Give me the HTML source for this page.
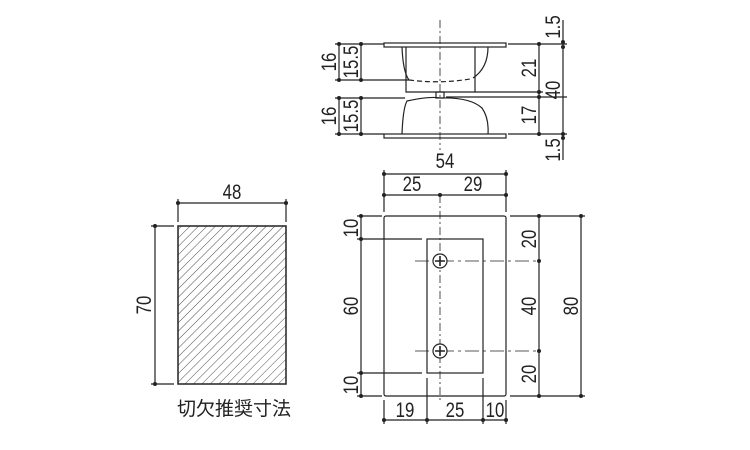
<!DOCTYPE html>
<html><head><meta charset="utf-8"><style>body{margin:0;background:#fff}svg{display:block}</style></head><body>
<svg width="750" height="450" viewBox="0 0 750 450" xmlns="http://www.w3.org/2000/svg" font-family="'Liberation Sans','Noto Sans CJK JP',sans-serif" font-size="21" fill="#222">
<defs>
<pattern id="h" patternUnits="userSpaceOnUse" width="6" height="6" patternTransform="rotate(45)"><line x1="0" y1="0" x2="0" y2="6" stroke="#222" stroke-width="0.8"/></pattern>
</defs>
<g stroke="#222" stroke-width="1.2" fill="none">
<rect x="384" y="43" width="122" height="4" fill="#fff"/>
<rect x="384" y="134" width="122" height="4" fill="#fff"/>
<path d="M406 47 V92 H475 V47"/>
<path d="M402 47 Q403 72 409 80"/>
<path d="M488 47 Q488 68 473 78"/>
<path d="M409 80 Q440 84 470 79" stroke-dasharray="5,3"/>
<rect x="436" y="92" width="8" height="6"/>
<path d="M402 134 Q403 108 407 101 Q430 96 440 98 Q470 97 482 108 Q489 118 488 134"/>
<line x1="440" y1="20" x2="440" y2="150" stroke-dasharray="8,3,2,3" stroke-width="0.8"/>
<line x1="339" y1="44" x2="339" y2="80"/><line x1="361" y1="44" x2="361" y2="80"/>
<line x1="339" y1="98" x2="339" y2="134"/><line x1="361" y1="98" x2="361" y2="134"/>
<line x1="335" y1="44" x2="384" y2="44"/><line x1="335" y1="80" x2="409" y2="80"/>
<line x1="335" y1="98" x2="405" y2="98"/><line x1="335" y1="134" x2="384" y2="134"/>
<line x1="539" y1="44" x2="539" y2="134"/><line x1="563" y1="20" x2="563" y2="160"/>
<line x1="508" y1="44" x2="567" y2="44"/><line x1="475" y1="92" x2="543" y2="92"/>
<line x1="446" y1="97" x2="567" y2="97"/><line x1="508" y1="134" x2="567" y2="134"/>
<rect x="384" y="216" width="122" height="180" rx="2"/>
<rect x="427" y="239" width="56" height="134"/>
<line x1="440" y1="195" x2="440" y2="400" stroke-dasharray="8,3,2,3" stroke-width="0.8"/>
<line x1="415" y1="261" x2="539" y2="261" stroke-dasharray="14,4,3,4" stroke-width="0.8"/>
<line x1="415" y1="351" x2="539" y2="351" stroke-dasharray="14,4,3,4" stroke-width="0.8"/>
<circle cx="440" cy="261" r="7" fill="#fff"/><circle cx="440" cy="351" r="7" fill="#fff"/>
<path d="M435 261 H445 M440 256 V266 M435 351 H445 M440 346 V356" stroke-width="1.6"/>
<line x1="384" y1="174" x2="506" y2="174"/><line x1="384" y1="195" x2="506" y2="195"/>
<line x1="384" y1="170" x2="384" y2="212"/><line x1="506" y1="170" x2="506" y2="212"/>
<line x1="361" y1="216" x2="361" y2="396"/>
<line x1="357" y1="216" x2="382" y2="216"/><line x1="357" y1="239" x2="422" y2="239"/>
<line x1="357" y1="373" x2="422" y2="373"/><line x1="357" y1="396" x2="382" y2="396"/>
<line x1="539" y1="216" x2="539" y2="396"/><line x1="581" y1="216" x2="581" y2="396"/>
<line x1="510" y1="216" x2="585" y2="216"/><line x1="510" y1="396" x2="585" y2="396"/>
<line x1="384" y1="420" x2="506" y2="420"/>
<line x1="384" y1="400" x2="384" y2="424"/><line x1="427" y1="378" x2="427" y2="424"/>
<line x1="483" y1="378" x2="483" y2="424"/><line x1="506" y1="400" x2="506" y2="424"/>
<rect x="178" y="226" width="108" height="158" fill="url(#h)" stroke-width="1.5"/>
<line x1="178" y1="203" x2="286" y2="203"/><line x1="178" y1="199" x2="178" y2="222"/><line x1="286" y1="199" x2="286" y2="222"/>
<line x1="155" y1="226" x2="155" y2="384"/><line x1="151" y1="226" x2="174" y2="226"/><line x1="151" y1="384" x2="174" y2="384"/>
</g>
<g fill="#222">
<circle cx="339" cy="44" r="2"/><circle cx="361" cy="44" r="2"/><circle cx="339" cy="80" r="2"/><circle cx="361" cy="80" r="2"/>
<circle cx="339" cy="98" r="2"/><circle cx="361" cy="98" r="2"/><circle cx="339" cy="134" r="2"/><circle cx="361" cy="134" r="2"/>
<circle cx="539" cy="44" r="2"/><circle cx="539" cy="92" r="2"/><circle cx="539" cy="97" r="2"/><circle cx="539" cy="134" r="2"/>
<circle cx="563" cy="42" r="2"/><circle cx="563" cy="47" r="2"/><circle cx="563" cy="134" r="2"/><circle cx="563" cy="138" r="2"/>
<circle cx="384" cy="174" r="2"/><circle cx="506" cy="174" r="2"/><circle cx="384" cy="195" r="2"/><circle cx="440" cy="195" r="2"/><circle cx="506" cy="195" r="2"/>
<circle cx="361" cy="216" r="2"/><circle cx="361" cy="239" r="2"/><circle cx="361" cy="373" r="2"/><circle cx="361" cy="396" r="2"/>
<circle cx="539" cy="216" r="2"/><circle cx="539" cy="261" r="2"/><circle cx="539" cy="351" r="2"/><circle cx="539" cy="396" r="2"/>
<circle cx="581" cy="216" r="2"/><circle cx="581" cy="396" r="2"/>
<circle cx="384" cy="420" r="2"/><circle cx="427" cy="420" r="2"/><circle cx="483" cy="420" r="2"/><circle cx="506" cy="420" r="2"/>
<circle cx="178" cy="203" r="2"/><circle cx="286" cy="203" r="2"/><circle cx="155" cy="226" r="2"/><circle cx="155" cy="384" r="2"/>
</g>
<g text-anchor="middle">
<text transform="translate(445,168) scale(0.8,1)">54</text>
<text transform="translate(412,191) scale(0.8,1)">25</text>
<text transform="translate(473,191) scale(0.8,1)">29</text>
<text transform="translate(405,417) scale(0.8,1)">19</text>
<text transform="translate(455,417) scale(0.8,1)">25</text>
<text transform="translate(495,417) scale(0.8,1)">10</text>
<text transform="translate(232,199) scale(0.8,1)">48</text>
<text x="234" y="415" font-size="19">切欠推奨寸法</text>
<text transform="translate(336,62) rotate(-90) scale(0.8,1)">16</text>
<text transform="translate(358,62) rotate(-90) scale(0.8,1)">15.5</text>
<text transform="translate(336,116) rotate(-90) scale(0.8,1)">16</text>
<text transform="translate(358,116) rotate(-90) scale(0.8,1)">15.5</text>
<text transform="translate(536,68) rotate(-90) scale(0.8,1)">21</text>
<text transform="translate(536,115) rotate(-90) scale(0.8,1)">17</text>
<text transform="translate(560,90) rotate(-90) scale(0.8,1)">40</text>
<text transform="translate(560,27) rotate(-90) scale(0.8,1)">1.5</text>
<text transform="translate(560,150) rotate(-90) scale(0.8,1)">1.5</text>
<text transform="translate(358,228) rotate(-90) scale(0.8,1)">10</text>
<text transform="translate(358,306) rotate(-90) scale(0.8,1)">60</text>
<text transform="translate(358,385) rotate(-90) scale(0.8,1)">10</text>
<text transform="translate(536,239) rotate(-90) scale(0.8,1)">20</text>
<text transform="translate(536,306) rotate(-90) scale(0.8,1)">40</text>
<text transform="translate(536,374) rotate(-90) scale(0.8,1)">20</text>
<text transform="translate(578,306) rotate(-90) scale(0.8,1)">80</text>
<text transform="translate(151,305) rotate(-90) scale(0.8,1)">70</text>
</g>
</svg>
</body></html>
